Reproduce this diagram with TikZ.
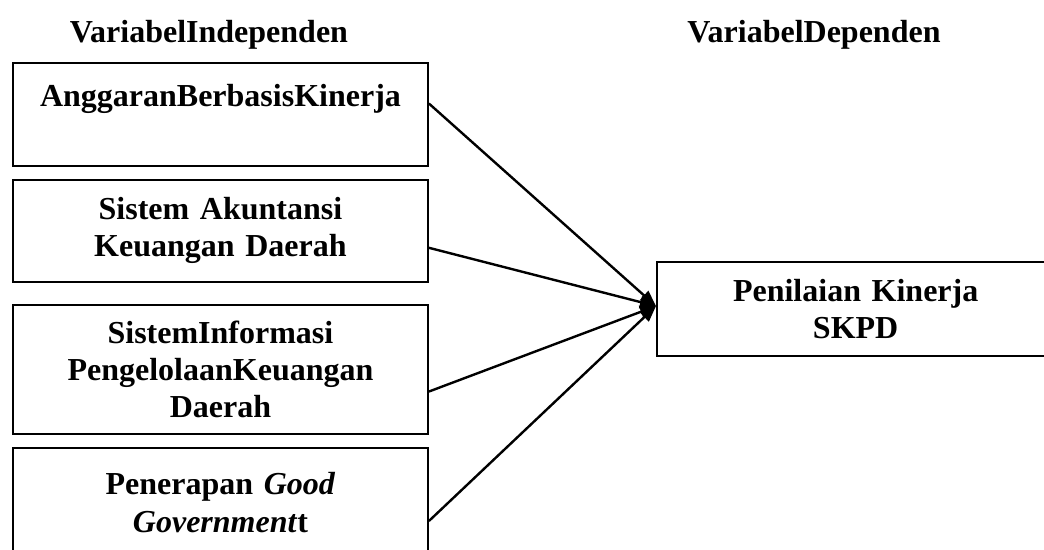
\documentclass[tikz,border=0pt]{standalone}
\usepackage{fontspec}
\setmainfont{Liberation Serif}
\usetikzlibrary{positioning,arrows.meta}
\begin{document}
\begin{tikzpicture}[
        x=0.375pt, y=-0.375pt,
        var/.style={rectangle, draw, line width=0.75pt, text width=155.6pt, inner sep=0pt, align=center, font=\bfseries\fontsize{12}{14}\selectfont},
        judul/.style={font=\bfseries\fontsize{12}{14}\selectfont, anchor=base},
        hubung/.style={line width=0.9pt, -{Triangle[length=6pt, width=4.6pt]}}
    ]
    \clip (0,0) rectangle (1044,550);
    \node[judul] (h1) at (209,42) {VariabelIndependen};
    \node[judul] (h2) at (814,42) {VariabelDependen};
    \node[var, minimum height=38.6pt, anchor=north west] (b1) at (12,62) {
        AnggaranBerbasisKinerja\\ \mbox{}
    };
    \node[var, minimum height=38.3pt, below=4.4pt of b1] (b2) {
        Sistem Akuntansi\\
        Keuangan Daerah
    };
    \node[var, minimum height=48.7pt, below=7.8pt of b2] (b3) {
        SistemInformasi\\
        PengelolaanKeuangan\\
        Daerah
    };
    \node[var, minimum height=41pt, below=4.3pt of b3] (b4) {
        Penerapan \textit{Good}\\
        \textit{Government}t
    };
    \node[var, text width=149pt, minimum height=35.25pt, anchor=north west] (hasil) at (656,261) {
        Penilaian Kinerja\\
        SKPD
    };
    \coordinate (tuju) at ([yshift=1.1pt]hasil.west);
    \draw[hubung] ([yshift=4.1pt]b1.east) -- (tuju);
    \draw[hubung] ([yshift=-6.4pt]b2.east) -- (tuju);
    \draw[hubung] ([yshift=-8.25pt]b3.east) -- (tuju);
    \draw[hubung] ([yshift=-6.9pt]b4.east) -- (tuju);
\end{tikzpicture}
\end{document}
